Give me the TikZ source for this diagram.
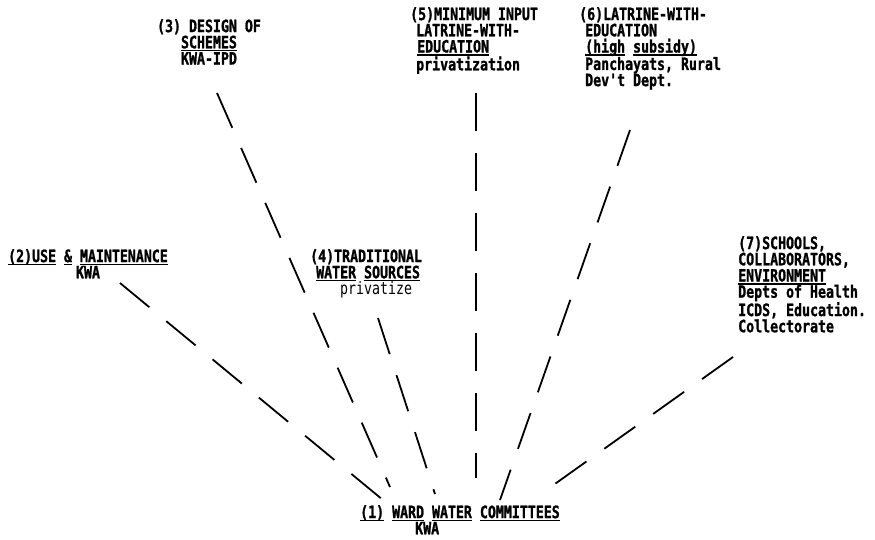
\documentclass[tikz,border=0pt]{standalone}
\usepackage{fontspec}
\newfontfamily\tw[FakeStretch=0.78,Ligatures=TeXOff,BoldFeatures={FakeBold=1.2}]{DejaVu Sans Mono}
\newsavebox\ulbox
\newcommand\myul[1]{\sbox\ulbox{#1}\rlap{\rule[-3pt]{\wd\ulbox}{1.5pt}}\usebox\ulbox}
\tikzset{
  lbl/.style={font=\tw\bfseries\fontsize{17}{16.2}\selectfont, inner sep=0pt, anchor=north west, align=left},
  lblc/.style={lbl, anchor=north, align=center},
  link/.style={line width=1.8pt, dash pattern=on 38pt off 22pt}
}
\begin{document}
\begin{tikzpicture}[x=1pt,y=-1pt]
\useasboundingbox (0,0) rectangle (875,539);
\fill[white] (0,0) rectangle (875,539);
% nodes
\node[lblc] (n3) at (209,19) {(3) DESIGN OF\\ \myul{SCHEMES}\\ KWA-IPD};
\node[lbl] (n5) at (410,7) {(5)MINIMUM INPUT\\ \hspace{6pt}LATRINE-WITH-\\ \hspace{7pt}\myul{EDUCATION}\\ \hspace{6pt}privatization};
\node[lbl] (n6) at (579,7) {(6)LATRINE-WITH-\\ \hspace{6pt}EDUCATION\\ \hspace{6pt}\myul{(high} \myul{subsidy)}\\ \hspace{6pt}Panchayats, Rural\\ \hspace{6pt}Dev't Dept.};
\node[lblc] (n2) at (88,249) {\myul{(2)USE} \myul{\&} \myul{MAINTENANCE}\\ KWA};
\node[lbl] (n4) at (310,249) {(4)TRADITIONAL\\ \hspace{6pt}\myul{WATER} \myul{SOURCES}\\ \hspace{30pt}{\mdseries privatize}};
\node[lbl] (n7) at (738,236) {(7)SCHOOLS,\\ COLLABORATORS,\\ \myul{ENVIRONMENT}\\ Depts of Health\\ ICDS, Education.\\ Collectorate};
\node[lbl] (n1) at (360,505) {\myul{(1)} \myul{WARD} \myul{WATER} \myul{COMMITTEES}\\ \hspace{55pt}KWA};
% connector end points
\coordinate (a2) at (120,283); \coordinate (b2) at (383,500);
\coordinate (a3) at (217,93);  \coordinate (b3) at (390,487);
\coordinate (a4) at (378,318); \coordinate (b4) at (435,494);
\coordinate (a5) at (476,93);  \coordinate (b5) at (476,478);
\coordinate (a6) at (630,130); \coordinate (b6) at (500,500);
\coordinate (a7) at (733,357); \coordinate (b7) at (545,491);
\draw[link] (a2) -- (b2);
\draw[link] (a3) -- (b3);
\draw[link] (a4) -- (b4);
\draw[link] (a5) -- (b5);
\draw[link] (a6) -- (b6);
\draw[link] (a7) -- (b7);
\end{tikzpicture}
\end{document}
